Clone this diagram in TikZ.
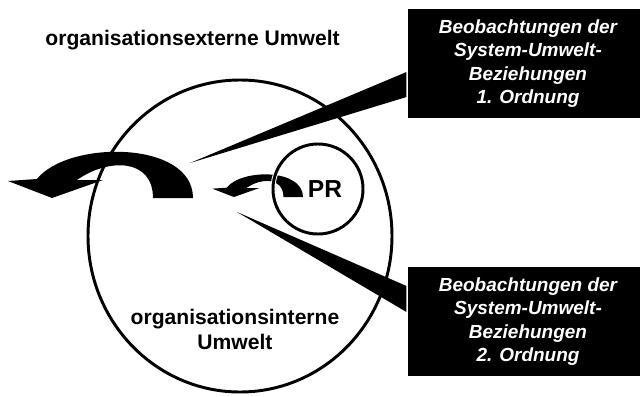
\documentclass[tikz,border=0pt]{standalone}
\usepackage{fontspec}
\setmainfont{Liberation Sans}
\usetikzlibrary{calc}
\tikzset{obsbox/.style = {fill, text=white, align=center, inner sep=0,
                          minimum width=6cm, minimum height=2.725cm,
                          font=\fontsize{13.5}{16.6}\selectfont\bfseries\itshape}}
\tikzset{lbl/.style = {inner sep=0, align=center,
                       font=\fontsize{15}{17.8}\selectfont\bfseries}}
\tikzset{uturn/.pic = {\fill (-185, -17) -- (-156, -19)
                          .. controls (-125, -58) and (0, -58) .. (0, 0)
                          -- (-40, 0)
                          .. controls (-40, -40) and (-85, -40) .. (-116, -18)
                          -- (-90, -18) -- (-141, 0) -- cycle;}}

\begin{document}
\begin{tikzpicture}[x=0.025cm, y=-0.025cm, line width=2.1pt]
      \useasboundingbox (0, 0) rectangle (640, 396);

      \node [lbl, anchor=west] (extern) at (44, 40) {organisationsexterne Umwelt};

      \draw (240, 236) ellipse [x radius=152, y radius=156];
      \node [lbl] (intern) at (235, 329) {organisationsinterne\\Umwelt};

      \pic at (193, 198) {uturn};
      \pic [scale=0.49] at (303, 197) {uturn};

      \node [circle, draw=white, double=black, double distance=2.1pt, line width=0.7pt,
             minimum size=2.25cm] (prkreis) at (318, 189) {};
      \node [lbl, font=\fontsize{17.5}{20}\selectfont\bfseries] (pr) at (325, 189) {PR};

      \node [obsbox] (obs1) at (528, 63.5) {Beobachtungen der\\System-Umwelt-\\Beziehungen\\1. Ordnung};
      \node [obsbox] (obs2) at (528, 321.5) {Beobachtungen der\\System-Umwelt-\\Beziehungen\\2. Ordnung};

      \coordinate (spitze1) at (190, 163);
      \coordinate (spitze2) at (237, 212);
      \fill ($(obs1.west) + (0, 8.5)$) -- (spitze1) -- ($(obs1.west) + (0, 33.5)$) -- cycle;
      \fill ($(obs2.west) + (0, -35.5)$) -- (spitze2) -- ($(obs2.west) + (0, -9.5)$) -- cycle;
    \end{tikzpicture}
\end{document}
